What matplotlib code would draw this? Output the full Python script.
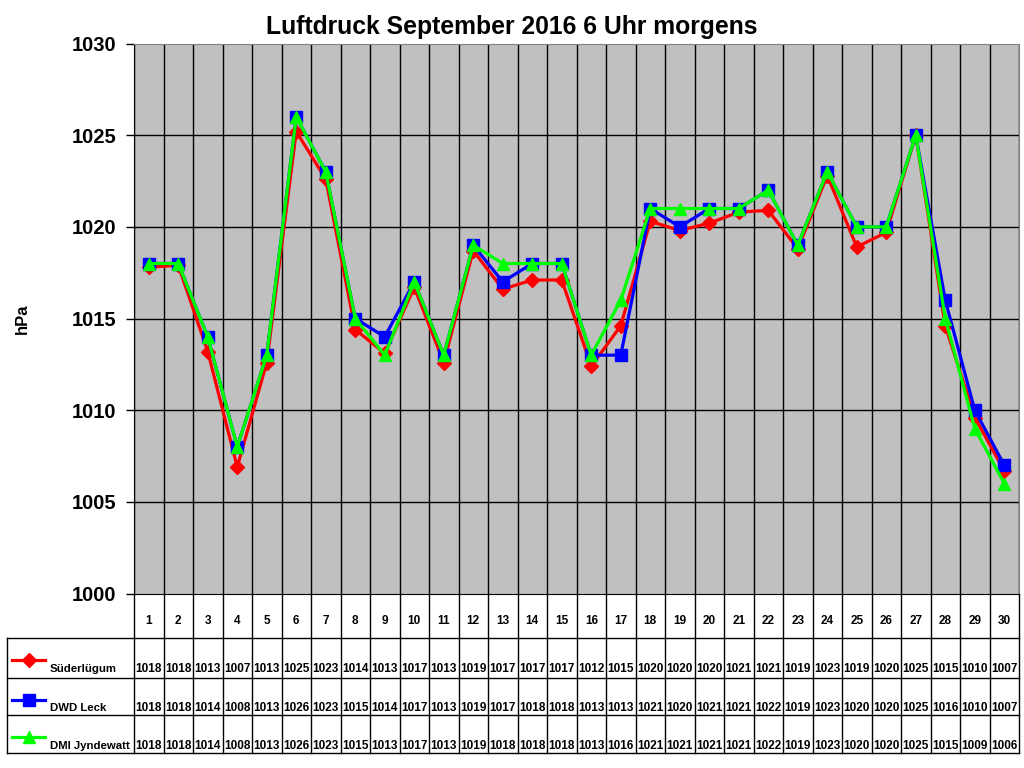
import matplotlib
matplotlib.use("Agg")
import matplotlib.pyplot as plt
from matplotlib.lines import Line2D

days = list(range(1, 31))
suederluegum = [1017.8, 1017.9, 1013.2, 1006.9, 1012.6, 1025.2, 1022.6, 1014.4, 1013.1, 1016.7,
                1012.6, 1018.7, 1016.6, 1017.1, 1017.1, 1012.4, 1014.6, 1020.3, 1019.8, 1020.2,
                1020.8, 1020.9, 1018.8, 1022.8, 1018.9, 1019.7, 1025.0, 1014.6, 1009.6, 1006.7]
dwd_leck = [1018, 1018, 1014, 1008, 1013, 1026, 1023, 1015, 1014, 1017,
            1013, 1019, 1017, 1018, 1018, 1013, 1013, 1021, 1020, 1021,
            1021, 1022, 1019, 1023, 1020, 1020, 1025, 1016, 1010, 1007]
dmi_jyndewatt = [1018, 1018, 1014, 1008, 1013, 1026, 1023, 1015, 1013, 1017,
                 1013, 1019, 1018, 1018, 1018, 1013, 1016, 1021, 1021, 1021,
                 1021, 1022, 1019, 1023, 1020, 1020, 1025, 1015, 1009, 1006]
series_names = ["Süderlügum", "DWD Leck", "DMI Jyndewatt"]
y_ticks = [1000, 1005, 1010, 1015, 1020, 1025, 1030]

styles = [("#FF0000", "D", 7), ("#0000FF", "s", 8), ("#00FF00", "^", 9)]
all_series = [suederluegum, dwd_leck, dmi_jyndewatt]

W, H = 1024, 768
fig = plt.figure(figsize=(W / 100, H / 100), dpi=100)
font = "Liberation Sans"

# plot area in pixels
px_l, px_r, px_t, px_b = 134, 1019, 43.5, 593.5
ax = fig.add_axes([px_l / W, 1 - px_b / H, (px_r - px_l) / W, (px_b - px_t) / H])
ax.set_facecolor("#C0C0C0")
ax.set_xlim(0.5, 30.5)
ax.set_ylim(1000, 1030)
ax.set_yticks(y_ticks)
ax.set_yticklabels([str(t) for t in y_ticks], fontfamily=font,
                   fontweight="bold", fontsize=14.5)
ax.tick_params(axis="y", direction="out", length=5.5, width=1, pad=7)
ax.set_xticks([])
for k in range(31):
    ax.axvline(0.5 + k, color="black", lw=1, zorder=1)
for t in y_ticks[1:-1]:
    ax.axhline(t, color="black", lw=1, zorder=1)
for s in ["top", "right"]:
    ax.spines[s].set_color("#808080")
ax.spines["left"].set_color("black")
ax.spines["bottom"].set_color("black")

for vals, (col, mk, ms) in zip(all_series, styles):
    ax.plot(days, vals, color=col, lw=2.3, marker=mk, markersize=ms,
            markeredgecolor=col, markerfacecolor=col, zorder=3, clip_on=False)

ax.set_ylabel("hPa", fontfamily=font, fontweight="bold", fontsize=12, labelpad=30)
fig.text(512 / W, 1 - 27 / H, "Luftdruck September 2016 6 Uhr morgens",
         ha="center", va="center", fontfamily=font, fontweight="bold", fontsize=17.8)

# data table below the chart
tb_bottom = 752.7
tab = fig.add_axes([px_l / W, 1 - tb_bottom / H, (px_r - px_l) / W, (tb_bottom - px_b) / H])
tab.set_xlim(0.5, 30.5)
tab.set_ylim(tb_bottom - px_b, 0)
tab.axis("off")
rows = [0, 44.5, 84.2, 121.8, tb_bottom - px_b]
x_left = 0.5 - (px_l - 7) / 29.5

for k in range(31):
    tab.plot([0.5 + k, 0.5 + k], [0, rows[-1]], color="black", lw=1, clip_on=False)
for r in rows[1:]:
    tab.plot([x_left, 30.5], [r, r], color="black", lw=1, clip_on=False)
tab.plot([x_left, x_left], [rows[1], rows[-1]], color="black", lw=1, clip_on=False)

for d in days:
    tab.text(d, 28, str(d), ha="center", va="center", fontfamily=font,
             fontweight="bold", fontsize=8.5)

for i, (vals, name, (col, mk, ms)) in enumerate(zip(all_series, series_names, styles)):
    y_txt = rows[i + 1] + 30.5
    for d, v in zip(days, vals):
        tab.text(d, y_txt, str(int(v + 0.5)), ha="center", va="center", fontfamily=font,
                 fontweight="bold", fontsize=8.5)
    y_mk = rows[i + 1] + 22
    x0 = 0.5 - (px_l - 12) / 29.5
    x1 = 0.5 - (px_l - 45) / 29.5
    tab.add_line(Line2D([x0, x1], [y_mk, y_mk], color=col, lw=2.3, clip_on=False))
    tab.add_line(Line2D([(x0 + x1) / 2], [y_mk], color=col, marker=mk, markersize=ms,
                        markeredgecolor=col, clip_on=False))
    tab.text(0.5 - (px_l - 50) / 29.5, y_txt, name, ha="left", va="center",
             fontfamily=font, fontweight="bold", fontsize=8.2)

fig.savefig("out.png", dpi=100, facecolor="white")
